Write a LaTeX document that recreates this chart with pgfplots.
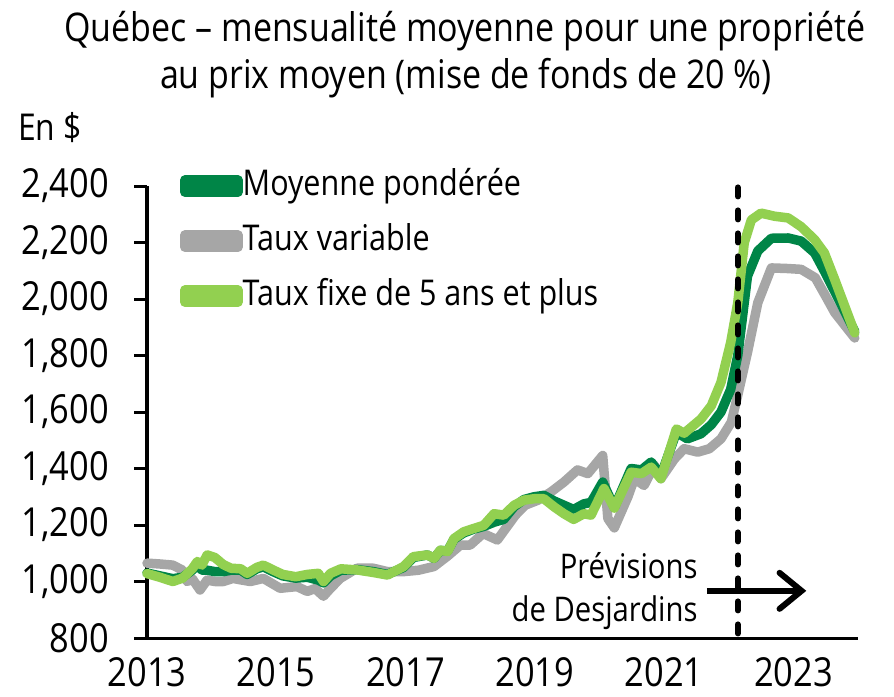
\documentclass[border=0pt]{standalone}
\usepackage{fontspec}
\setmainfont{Open Sans}[FakeStretch=0.86]
\usepackage{pgfplots}
\pgfplotsset{compat=1.18}
\usetikzlibrary{arrows.meta}
\definecolor{dgreen}{RGB}{0,133,71}
\definecolor{lgreen}{RGB}{146,208,80}
\definecolor{vgray}{RGB}{166,166,166}
\begin{document}
\begin{tikzpicture}
\useasboundingbox (0,0) rectangle (894bp,-697bp);
\node[anchor=base, inner sep=0pt, font=\fontsize{39.5bp}{46bp}\selectfont] at (465bp,-41bp) {Québec – mensualité moyenne pour une propriété};
\node[anchor=base, inner sep=0pt, font=\fontsize{39.5bp}{46bp}\selectfont] at (466bp,-88bp) {au prix moyen (mise de fonds de 20~\%)};
\node[anchor=base west, inner sep=0pt, font=\fontsize{37bp}{44bp}\selectfont] at (18bp,-140bp) {En \$};
\begin{axis}[
  at={(147bp,-638bp)}, anchor=south west,
  scale only axis, width=711bp, height=452bp,
  xmin=2013, xmax=2024, ymin=800, ymax=2400,
  axis x line*=bottom, axis y line*=left,
  axis line style={line width=3bp, black},
  ytick={800,1000,...,2400},
  xtick={2013,2015,2017,2019,2021,2023},
  xticklabels={2013,2015,2017,2019,2021,2023},
  x tick style={draw=none},
  y tick style={line width=3bp, black},
  tick align=outside, major tick length=13bp,
  /pgf/number format/assume math mode=true,
  /pgf/number format/1000 sep={,},
  tick label style={font=\fontsize{40bp}{48bp}\selectfont, inner sep=0pt},
  y tick label style={xshift=-25bp},
  x tick label style={yshift=-6bp, text depth=0pt},
  clip=false,
  legend style={at={(rel axis cs:0,1)}, anchor=north west, xshift=33bp, yshift=17bp,
    draw=none, fill=none, inner sep=0pt, row sep=21bp,
    font=\fontsize{35.5bp}{42bp}\selectfont,
    nodes={inner sep=0pt, text height=26bp, text depth=8bp},
    /tikz/every even column/.style={column sep=0pt},
    /tikz/every odd column/.style={column sep=0pt}},
  legend cell align=left,
  legend image code/.code={\path (0bp,-6bp) rectangle (53bp,6bp); \draw[line width=12bp, line cap=round] (6bp,0bp) -- (48bp,0bp);},
  every axis plot/.append style={line width=9.5bp, line join=round, line cap=round},
]
\addlegendimage{dgreen}
\addlegendentry{Moyenne pondérée}
\addlegendimage{vgray}
\addlegendentry{Taux variable}
\addlegendimage{lgreen}
\addlegendentry{Taux fixe de 5 ans et plus}

% Taux variable
\addplot[vgray, forget plot] coordinates {
(2013.00,1065)(2013.20,1062)(2013.40,1058)(2013.55,1040)(2013.62,1000)(2013.70,1010)
(2013.82,970)(2013.93,1005)(2014.05,1000)(2014.18,1000)(2014.33,1011)(2014.47,1005)
(2014.60,1000)(2014.80,1011)(2015.06,976)(2015.32,982)(2015.48,965)(2015.60,975)
(2015.73,948)(2015.84,976)(2015.99,1011)(2016.25,1047)(2016.50,1047)(2016.72,1035)
(2016.97,1035)(2017.20,1040)(2017.44,1053)(2017.65,1090)(2017.85,1129)(2018.00,1129)
(2018.20,1170)(2018.42,1147)(2018.55,1188)(2018.70,1235)(2018.85,1270)(2019.05,1288)
(2019.25,1317)(2019.45,1352)(2019.66,1395)(2019.82,1382)(2020.05,1446)(2020.13,1223)
(2020.23,1190)(2020.44,1300)(2020.54,1364)(2020.69,1340)(2020.85,1411)(2020.95,1364)
(2021.16,1434)(2021.31,1470)(2021.52,1458)(2021.70,1470)(2021.88,1505)(2022.04,1564)
(2022.14,1660)(2022.29,1811)(2022.45,1987)(2022.66,2110)(2022.90,2108)(2023.12,2105)
(2023.34,2075)(2023.50,2010)(2023.64,1952)(2023.95,1862)
};
% Moyenne ponderee
\addplot[dgreen, forget plot] coordinates {
(2013.00,1030)(2013.20,1020)(2013.40,1010)(2013.55,1015)(2013.70,1040)(2013.78,1060)
(2013.85,1040)(2013.93,1040)(2014.05,1035)(2014.18,1035)(2014.30,1040)(2014.45,1040)
(2014.55,1025)(2014.70,1045)(2014.80,1052)(2014.95,1035)(2015.10,1020)(2015.30,1012)
(2015.48,1015)(2015.65,1005)(2015.73,995)(2015.84,1020)(2016.00,1040)(2016.25,1042)
(2016.50,1035)(2016.72,1025)(2016.97,1050)(2017.12,1085)(2017.34,1094)(2017.44,1082)
(2017.54,1110)(2017.65,1108)(2017.75,1150)(2017.90,1172)(2018.06,1186)(2018.21,1195)
(2018.37,1210)(2018.52,1220)(2018.68,1265)(2018.83,1290)(2018.99,1300)(2019.14,1305)
(2019.30,1285)(2019.45,1270)(2019.60,1255)(2019.76,1275)(2019.87,1280)(2020.05,1352)
(2020.23,1262)(2020.49,1400)(2020.65,1395)(2020.80,1423)(2020.95,1375)(2021.19,1528)
(2021.36,1505)(2021.57,1523)(2021.73,1555)(2021.88,1600)(2022.03,1680)(2022.14,1800)
(2022.29,2081)(2022.45,2170)(2022.66,2215)(2022.92,2216)(2023.12,2205)(2023.33,2163)
(2023.50,2090)(2023.95,1885)
};
% Taux fixe
\addplot[lgreen, forget plot] coordinates {
(2013.00,1028)(2013.20,1015)(2013.40,1000)(2013.55,1012)(2013.70,1045)(2013.78,1071)
(2013.85,1058)(2013.93,1094)(2014.05,1085)(2014.18,1060)(2014.30,1047)(2014.45,1045)
(2014.55,1029)(2014.70,1050)(2014.80,1058)(2014.95,1041)(2015.10,1025)(2015.30,1017)
(2015.48,1025)(2015.65,1029)(2015.73,1000)(2015.84,1029)(2016.00,1045)(2016.25,1041)
(2016.50,1032)(2016.72,1023)(2016.97,1053)(2017.12,1088)(2017.34,1094)(2017.44,1082)
(2017.54,1111)(2017.65,1106)(2017.75,1152)(2017.90,1176)(2018.06,1188)(2018.21,1199)
(2018.37,1240)(2018.52,1235)(2018.68,1270)(2018.83,1288)(2018.99,1293)(2019.14,1293)
(2019.30,1264)(2019.45,1240)(2019.60,1220)(2019.76,1240)(2019.87,1235)(2020.07,1329)
(2020.23,1260)(2020.49,1387)(2020.65,1382)(2020.80,1405)(2020.95,1364)(2021.19,1540)
(2021.31,1525)(2021.57,1575)(2021.73,1622)(2021.88,1705)(2022.03,1846)(2022.14,1987)
(2022.24,2199)(2022.35,2280)(2022.50,2304)(2022.71,2293)(2022.92,2287)(2023.12,2256)
(2023.33,2210)(2023.48,2163)(2023.64,2069)(2023.95,1880)
};
% forecast marker
\addplot[black, line width=6bp, line cap=round, dash pattern=on 9bp off 14bp, forget plot] coordinates {(2022.14,2395)(2022.14,800)};
\draw[black, line width=6bp, -{Straight Barb[length=22bp, width=36bp, line cap=round]}] (axis cs:2021.66,967) -- (axis cs:2023.20,967);
\node[anchor=base east, inner sep=0pt, font=\fontsize{34bp}{40bp}\selectfont] at (axis cs:2021.52,1012) {Prévisions};
\node[anchor=base east, inner sep=0pt, font=\fontsize{34bp}{40bp}\selectfont] at (axis cs:2021.52,860) {de Desjardins};
\end{axis}
\end{tikzpicture}
\end{document}
